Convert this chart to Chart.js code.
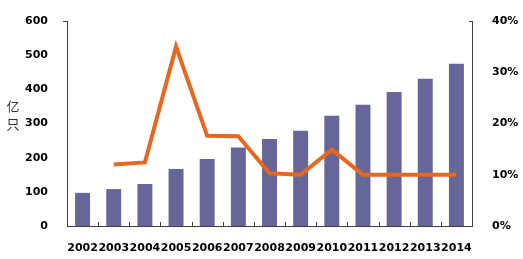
<!DOCTYPE html>
<html>
<head>
<meta charset="utf-8">
<script src="https://cdn.jsdelivr.net/npm/chart.js@4/dist/chart.umd.min.js"></script>
<style>
  html, body { margin: 0; padding: 0; background: #fff; }
  #wrap { width: 523px; height: 259px; }
</style>
</head>
<body>
<div id="wrap"><canvas id="c" width="523" height="259"></canvas></div>
<script>
const categories = ['2002','2003','2004','2005','2006','2007','2008','2009','2010','2011','2012','2013','2014'];
const volume = [97, 108, 123, 167, 196, 230, 255, 279, 323, 355, 392, 431, 475];
const growth = [null, 12.0, 12.4, 35.0, 17.6, 17.5, 10.3, 10.0, 14.9, 10.0, 10.0, 10.0, 10.0];
const leftTicks = [0, 100, 200, 300, 400, 500, 600];
const rightTicks = [0, 10, 20, 30, 40];
const unitLabel = ['亿', '只'];

const AXIS = '#404040';
const FONT = { family: 'DejaVu Sans', size: 11, weight: 'bold' };

const decor = {
  id: 'decor',
  afterDraw(chart) {
    const ctx = chart.ctx;
    const a = chart.chartArea;
    const x = chart.scales.x;
    ctx.save();
    ctx.strokeStyle = AXIS;
    ctx.lineWidth = 1;
    ctx.beginPath();
    for (let i = 1; i < categories.length; i++) {
      const px = Math.round((x.getPixelForValue(i - 1) + x.getPixelForValue(i)) / 2) + 0.5;
      ctx.moveTo(px, a.bottom);
      ctx.lineTo(px, a.bottom - 4);
    }
    const yt = Math.round(chart.scales.y.getPixelForValue(600)) + 0.5;
    ctx.moveTo(a.left - 4, yt); ctx.lineTo(a.left, yt);
    const yr = Math.round(chart.scales.y1.getPixelForValue(40)) + 0.5;
    ctx.moveTo(a.right - 3, yr); ctx.lineTo(a.right, yr);
    ctx.stroke();
    ctx.fillStyle = '#333';
    ctx.font = '13px "Noto Sans CJK SC"';
    ctx.textAlign = 'center';
    ctx.textBaseline = 'middle';
    ctx.fillText(unitLabel[0], 13, 106);
    ctx.fillText(unitLabel[1], 13, 124);
    ctx.restore();
  }
};

new Chart(document.getElementById('c'), {
  data: {
    labels: categories,
    datasets: [
      {
        type: 'line',
        data: growth,
        yAxisID: 'y1',
        borderColor: '#E8671E',
        borderWidth: 4,
        pointRadius: 0,
        tension: 0,
        fill: false,
        order: 0
      },
      {
        type: 'bar',
        data: volume,
        yAxisID: 'y',
        backgroundColor: '#666699',
        categoryPercentage: 1,
        barPercentage: 0.48,
        order: 1
      }
    ]
  },
  plugins: [decor],
  options: {
    responsive: false,
    animation: false,
    layout: { padding: { top: 21, left: 0, right: 0, bottom: 0 } },
    plugins: { legend: { display: false }, tooltip: { enabled: false } },
    scales: {
      x: {
        offset: true,
        grid: { display: false },
        border: { display: true, color: AXIS, width: 1 },
        ticks: { color: '#000', font: FONT, padding: 8, maxRotation: 0, autoSkip: false },
        afterFit(s) { s.height = 33; }
      },
      y: {
        position: 'left',
        min: 0, max: 600,
        afterBuildTicks(s) { s.ticks = leftTicks.map(v => ({ value: v })); },
        grid: { display: false },
        border: { display: true, color: AXIS, width: 1 },
        ticks: { color: '#000', font: FONT, padding: 11 },
        afterFit(s) { s.width = 67; }
      },
      y1: {
        position: 'right',
        min: 0, max: 40,
        afterBuildTicks(s) { s.ticks = rightTicks.map(v => ({ value: v })); },
        grid: { display: false },
        border: { display: true, color: AXIS, width: 1 },
        ticks: { color: '#000', font: FONT, padding: 12, callback: v => v + '%' },
        afterFit(s) { s.width = 51; }
      }
    }
  }
});
</script>
</body>
</html>
